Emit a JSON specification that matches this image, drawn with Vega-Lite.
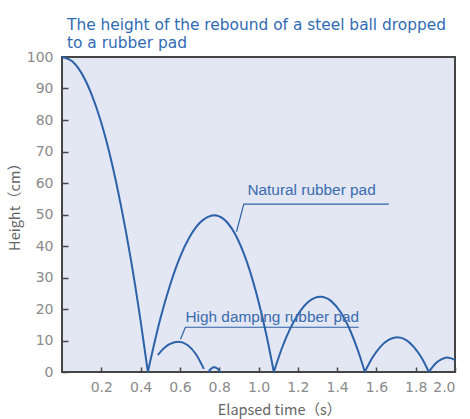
{
  "$schema": "https://vega.github.io/schema/vega-lite/v6.json",
  "width": 393,
  "height": 315,
  "autosize": {"type": "none"},
  "padding": {"left": 62, "top": 57, "right": 15, "bottom": 47},
  "background": "white",
  "title": {
    "text": ["The height of the rebound of a steel ball dropped", "to a rubber pad"],
    "anchor": "start",
    "frame": "group",
    "orient": "top",
    "dx": 5,
    "offset": -1,
    "font": "DejaVu Sans",
    "fontSize": 15.4,
    "fontWeight": "normal",
    "lineHeight": 18,
    "color": "#2f6bb3"
  },
  "config": {
    "view": {"fill": "#e3e6f3", "stroke": "#454545", "strokeWidth": 2},
    "axis": {
      "domain": false,
      "grid": false,
      "labelFont": "DejaVu Sans",
      "labelFontSize": 14,
      "labelColor": "#8a8a8a",
      "titleFont": "Noto Sans CJK JP",
      "titleFontSize": 14.5,
      "titleFontWeight": "normal",
      "titleColor": "#666666",
      "tickColor": "#454545",
      "tickWidth": 1.5
    }
  },
  "datasets": {
    "curves": [
      {"series": "n1", "t": 0, "h": 100},
      {"series": "n1", "t": 0.05, "h": 98.7},
      {"series": "n1", "t": 0.1, "h": 94.8},
      {"series": "n1", "t": 0.15, "h": 88.2},
      {"series": "n1", "t": 0.2, "h": 79.1},
      {"series": "n1", "t": 0.25, "h": 67.3},
      {"series": "n1", "t": 0.3, "h": 52.8},
      {"series": "n1", "t": 0.35, "h": 35.9},
      {"series": "n1", "t": 0.4, "h": 16.2},
      {"series": "n1", "t": 0.437, "h": 0},
      {"series": "n2", "t": 0.437, "h": 0},
      {"series": "n2", "t": 0.5, "h": 16.8},
      {"series": "n2", "t": 0.55, "h": 27.6},
      {"series": "n2", "t": 0.6, "h": 36.4},
      {"series": "n2", "t": 0.65, "h": 42.9},
      {"series": "n2", "t": 0.7, "h": 47.3},
      {"series": "n2", "t": 0.74, "h": 49.2},
      {"series": "n2", "t": 0.776, "h": 49.8},
      {"series": "n2", "t": 0.82, "h": 48.7},
      {"series": "n2", "t": 0.88, "h": 43.9},
      {"series": "n2", "t": 0.94, "h": 35.1},
      {"series": "n2", "t": 1.0, "h": 22.4},
      {"series": "n2", "t": 1.04, "h": 11.8},
      {"series": "n2", "t": 1.078, "h": 0},
      {"series": "n3", "t": 1.078, "h": 0},
      {"series": "n3", "t": 1.12, "h": 7.7},
      {"series": "n3", "t": 1.16, "h": 13.6},
      {"series": "n3", "t": 1.2, "h": 18.2},
      {"series": "n3", "t": 1.25, "h": 22.1},
      {"series": "n3", "t": 1.316, "h": 23.9},
      {"series": "n3", "t": 1.37, "h": 22.5},
      {"series": "n3", "t": 1.42, "h": 18.8},
      {"series": "n3", "t": 1.47, "h": 12.7},
      {"series": "n3", "t": 1.51, "h": 6.1},
      {"series": "n3", "t": 1.541, "h": 0},
      {"series": "n4", "t": 1.541, "h": 0},
      {"series": "n4", "t": 1.58, "h": 4.6},
      {"series": "n4", "t": 1.62, "h": 8.0},
      {"series": "n4", "t": 1.66, "h": 10.1},
      {"series": "n4", "t": 1.706, "h": 11},
      {"series": "n4", "t": 1.75, "h": 10.2},
      {"series": "n4", "t": 1.79, "h": 8.0},
      {"series": "n4", "t": 1.83, "h": 4.5},
      {"series": "n4", "t": 1.867, "h": 0},
      {"series": "n5", "t": 1.867, "h": 0},
      {"series": "n5", "t": 1.9, "h": 2.6},
      {"series": "n5", "t": 1.93, "h": 4.0},
      {"series": "n5", "t": 1.96, "h": 4.6},
      {"series": "n5", "t": 2.0, "h": 3.8},
      {"series": "d1", "t": 0.488, "h": 5.4},
      {"series": "d1", "t": 0.52, "h": 7.6},
      {"series": "d1", "t": 0.55, "h": 8.9},
      {"series": "d1", "t": 0.594, "h": 9.6},
      {"series": "d1", "t": 0.64, "h": 8.5},
      {"series": "d1", "t": 0.68, "h": 5.8},
      {"series": "d1", "t": 0.722, "h": 1.0},
      {"series": "d2", "t": 0.745, "h": 0},
      {"series": "d2", "t": 0.76, "h": 1.1},
      {"series": "d2", "t": 0.775, "h": 1.5},
      {"series": "d2", "t": 0.79, "h": 1.1},
      {"series": "d2", "t": 0.806, "h": 0}
    ],
    "leaders": [
      {"series": "natural", "t": 0.888, "h": 44.5},
      {"series": "natural", "t": 0.925, "h": 53.3},
      {"series": "natural", "t": 1.663, "h": 53.3},
      {"series": "damping", "t": 0.603, "h": 10.4},
      {"series": "damping", "t": 0.628, "h": 14.2},
      {"series": "damping", "t": 1.51, "h": 14.2}
    ],
    "labels": [
      {"label": "Natural rubber pad", "t": 1.27, "h": 57.8},
      {"label": "High damping rubber pad", "t": 1.07, "h": 17.6}
    ]
  },
  "encoding": {
    "x": {
      "field": "t",
      "type": "quantitative",
      "scale": {"domain": [0, 2], "nice": false, "zero": false},
      "axis": {
        "title": "Elapsed time（s）",
        "values": [0.2, 0.4, 0.6, 0.8, 1.0, 1.2, 1.4, 1.6, 1.8, 2.0],
        "format": ".1f",
        "tickSize": -5,
        "labelPadding": 13,
        "titleX": 217,
        "titleY": 38,
        "titleBaseline": "middle",
        "titleAnchor": "middle"
      }
    },
    "y": {
      "field": "h",
      "type": "quantitative",
      "scale": {"domain": [0, 100], "nice": false},
      "axis": {
        "title": "Height（cm）",
        "values": [0, 10, 20, 30, 40, 50, 60, 70, 80, 90, 100],
        "tickSize": -6,
        "labelPadding": 15,
        "titleX": -47,
        "titleY": 146,
        "titleBaseline": "middle",
        "titleAnchor": "middle"
      }
    }
  },
  "layer": [
    {
      "data": {"name": "curves"},
      "mark": {"type": "line", "interpolate": "monotone", "color": "#2c62a8", "strokeWidth": 2},
      "encoding": {"detail": {"field": "series"}}
    },
    {
      "data": {"name": "leaders"},
      "mark": {"type": "line", "color": "#2c62a8", "strokeWidth": 1.2},
      "encoding": {"detail": {"field": "series"}}
    },
    {
      "data": {"name": "labels"},
      "mark": {"type": "text", "font": "Liberation Sans", "fontSize": 15.4, "color": "#3a6cae", "baseline": "middle", "align": "center"},
      "encoding": {"text": {"field": "label"}}
    }
  ]
}
